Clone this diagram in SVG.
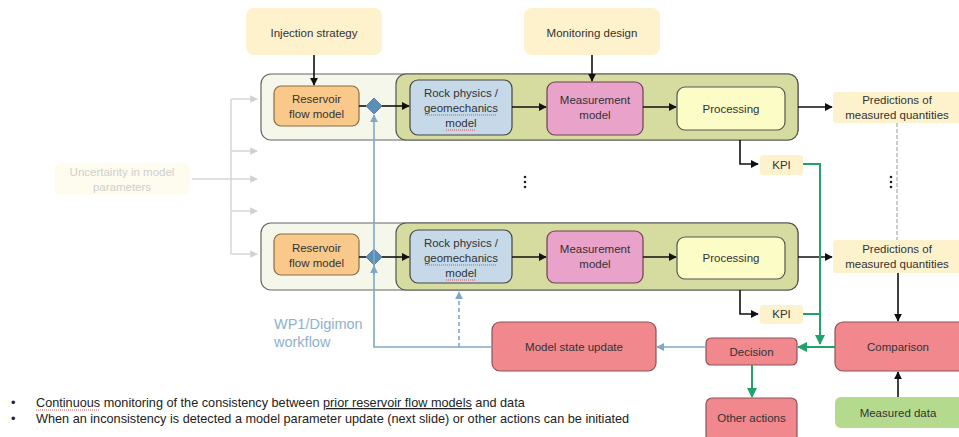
<svg xmlns="http://www.w3.org/2000/svg" width="959" height="437" viewBox="0 0 959 437">
  <style>
    text { font-family: "Liberation Sans", Arial, sans-serif; fill: #333; }
    .lbl { font-size: 11.5px; text-anchor: middle; }
    .note { fill: #fdf2cc; }
    .red { fill: #f0888e; stroke: #8c5256; stroke-width: 1.2; }
    .blk { stroke: #111; stroke-width: 1.6; fill: none; }
    .grn { stroke: #1fa36a; stroke-width: 2; fill: none; }
    .blu { stroke: #7ea9c6; stroke-width: 1.6; fill: none; }
    .gry { stroke: #d6d6d6; stroke-width: 1.5; fill: none; }
    .squig { stroke: #e05050; stroke-width: 1; stroke-dasharray: 1 1; fill: none; }
    .bul { font-size: 12.7px; fill: #222; }
  </style>
  <defs>
    <marker id="ab" viewBox="0 0 10 10" refX="9" refY="5" markerWidth="5" markerHeight="5" orient="auto">
      <path d="M0,0 L10,5 L0,10 z" fill="#111"/>
    </marker>
    <marker id="ag" viewBox="0 0 10 10" refX="9" refY="5" markerWidth="5" markerHeight="5" orient="auto">
      <path d="M0,0 L10,5 L0,10 z" fill="#1fa36a"/>
    </marker>
    <marker id="au" viewBox="0 0 10 10" refX="9" refY="5" markerWidth="5" markerHeight="5" orient="auto">
      <path d="M0,0 L10,5 L0,10 z" fill="#7ea9c6"/>
    </marker>
    <marker id="ay" viewBox="0 0 10 10" refX="9" refY="5" markerWidth="5" markerHeight="5" orient="auto">
      <path d="M0,0 L10,5 L0,10 z" fill="#d0d0d0"/>
    </marker>
  </defs>

  <!-- input notes -->
  <g id="injection">
    <rect class="note" x="246" y="8" width="136" height="47" rx="8"/>
    <text class="lbl" x="314" y="37">Injection strategy</text>
  </g>
  <g id="monitoring">
    <rect class="note" x="524" y="8" width="136" height="47" rx="8"/>
    <text class="lbl" x="592" y="37">Monitoring design</text>
  </g>

  <!-- uncertainty (faded) -->
  <g id="uncertainty">
    <rect x="55" y="163" width="135" height="32" rx="6" fill="#fefcef"/>
    <text class="lbl" x="122" y="176" style="fill:#cfcfcf">Uncertainty in model</text>
    <text class="lbl" x="122" y="191" style="fill:#cfcfcf">parameters</text>
  </g>

  <!-- workflow row 1 -->
  <g id="row1">
    <rect x="261" y="74" width="537" height="66" rx="10" fill="#f6f7eb" stroke="#666" stroke-width="1.2"/>
    <rect x="396" y="74" width="402" height="66" rx="10" fill="#d6dc9f" stroke="#555" stroke-width="1.2"/>
    <g id="reservoir1">
      <rect x="274" y="86" width="85" height="40" rx="7" fill="#f9c98b" stroke="#8a6c44" stroke-width="1.2"/>
      <text class="lbl" x="316.5" y="103">Reservoir</text>
      <text class="lbl" x="316.5" y="118">flow model</text>
    </g>
    <g id="diamond1">
      <path d="M374,98 L382,106 L374,114 L366,106 z" fill="#5b8fba" stroke="#4a7294" stroke-width="0.8"/>
    </g>
    <g id="rock1">
      <rect x="410" y="80" width="102" height="55" rx="8" fill="#c6d9e9" stroke="#444" stroke-width="1.2"/>
      <text class="lbl" x="461" y="97">Rock physics /</text>
      <text class="lbl" x="461" y="112">geomechanics</text>
      <text class="lbl" x="461" y="127">model</text>
      <path class="squig" d="M425,115 H497 M446,130 H476"/>
    </g>
    <g id="measurement1">
      <rect x="547" y="82" width="96" height="53" rx="8" fill="#e9a2c9" stroke="#6d4252" stroke-width="1.2"/>
      <text class="lbl" x="595" y="104">Measurement</text>
      <text class="lbl" x="595" y="119">model</text>
    </g>
    <g id="processing1">
      <rect x="677" y="87" width="108" height="43" rx="8" fill="#fbfcc6" stroke="#555" stroke-width="1.2"/>
      <text class="lbl" x="731" y="113">Processing</text>
    </g>
  </g>
  <g id="predictions1">
    <rect class="note" x="833" y="92" width="130" height="31" rx="3"/>
    <text class="lbl" x="897" y="104">Predictions of</text>
    <text class="lbl" x="897" y="119">measured quantities</text>
  </g>
  <g id="kpi1">
    <rect class="note" x="760" y="155" width="43" height="20" rx="3"/>
    <text class="lbl" x="781.5" y="169">KPI</text>
  </g>

  <!-- workflow row 2 -->
  <g id="row2">
    <rect x="261" y="223" width="537" height="67" rx="10" fill="#f6f7eb" stroke="#666" stroke-width="1.2"/>
    <rect x="396" y="223" width="402" height="67" rx="10" fill="#d6dc9f" stroke="#555" stroke-width="1.2"/>
    <g id="reservoir2">
      <rect x="274" y="234" width="85" height="41" rx="7" fill="#f9c98b" stroke="#8a6c44" stroke-width="1.2"/>
      <text class="lbl" x="316.5" y="252">Reservoir</text>
      <text class="lbl" x="316.5" y="267">flow model</text>
    </g>
    <g id="diamond2">
      <path d="M374,249 L382,257 L374,265 L366,257 z" fill="#5b8fba" stroke="#4a7294" stroke-width="0.8"/>
    </g>
    <g id="rock2">
      <rect x="410" y="230" width="102" height="53" rx="8" fill="#c6d9e9" stroke="#444" stroke-width="1.2"/>
      <text class="lbl" x="461" y="247">Rock physics /</text>
      <text class="lbl" x="461" y="262">geomechanics</text>
      <text class="lbl" x="461" y="277">model</text>
      <path class="squig" d="M425,265 H497 M446,280 H476"/>
    </g>
    <g id="measurement2">
      <rect x="547" y="231" width="96" height="52" rx="8" fill="#e9a2c9" stroke="#6d4252" stroke-width="1.2"/>
      <text class="lbl" x="595" y="253">Measurement</text>
      <text class="lbl" x="595" y="268">model</text>
    </g>
    <g id="processing2">
      <rect x="677" y="237" width="108" height="42" rx="8" fill="#fbfcc6" stroke="#555" stroke-width="1.2"/>
      <text class="lbl" x="731" y="262">Processing</text>
    </g>
  </g>
  <g id="predictions2">
    <rect class="note" x="833" y="240" width="130" height="33" rx="3"/>
    <text class="lbl" x="897" y="253">Predictions of</text>
    <text class="lbl" x="897" y="268">measured quantities</text>
  </g>
  <g id="kpi2">
    <rect class="note" x="760" y="305" width="43" height="19" rx="3"/>
    <text class="lbl" x="781.5" y="318">KPI</text>
  </g>

  <!-- evaluation boxes -->
  <g id="comparison">
    <rect class="red" x="835" y="322" width="134" height="49" rx="8"/>
    <text class="lbl" x="898" y="351">Comparison</text>
  </g>
  <g id="measured">
    <rect x="835" y="397" width="134" height="31" rx="6" fill="#b4da8e"/>
    <text class="lbl" x="898" y="417">Measured data</text>
  </g>
  <g id="decision">
    <rect class="red" x="706" y="338" width="91" height="27" rx="5"/>
    <text class="lbl" x="751.5" y="356">Decision</text>
  </g>
  <g id="other">
    <rect class="red" x="706" y="398" width="91" height="44" rx="6"/>
    <text class="lbl" x="751.5" y="422">Other actions</text>
  </g>
  <g id="update">
    <rect class="red" x="492" y="322" width="164" height="49" rx="8"/>
    <text class="lbl" x="574" y="351">Model state update</text>
  </g>

  <!-- connectors -->
  <g id="connectors">
    <!-- uncertainty fan-out -->
    <path class="gry" d="M192,179 H257" marker-end="url(#ay)"/>
    <path class="gry" d="M231,99 V254"/>
    <path class="gry" d="M231,99 H257" marker-end="url(#ay)"/>
    <path class="gry" d="M231,151 H257" marker-end="url(#ay)"/>
    <path class="gry" d="M231,211 H257" marker-end="url(#ay)"/>
    <path class="gry" d="M231,254 H257" marker-end="url(#ay)"/>

    <!-- inputs -->
    <path class="blk" d="M314,55 V85" marker-end="url(#ab)"/>
    <path class="blk" d="M592,55 V81" marker-end="url(#ab)"/>

    <!-- row 1 chain -->
    <path class="blk" d="M359,106 H366"/>
    <path class="blk" d="M382,106 H409" marker-end="url(#ab)"/>
    <path class="blk" d="M512,107 H546" marker-end="url(#ab)"/>
    <path class="blk" d="M643,107 H676" marker-end="url(#ab)"/>
    <path class="blk" d="M798,107 H832" marker-end="url(#ab)"/>
    <path class="blk" d="M740,140 V164 H758" marker-end="url(#ab)"/>

    <!-- row 2 chain -->
    <path class="blk" d="M359,257 H366"/>
    <path class="blk" d="M382,257 H409" marker-end="url(#ab)"/>
    <path class="blk" d="M512,257 H546" marker-end="url(#ab)"/>
    <path class="blk" d="M643,257 H676" marker-end="url(#ab)"/>
    <path class="blk" d="M798,257 H832" marker-end="url(#ab)"/>
    <path class="blk" d="M740,290 V314 H758" marker-end="url(#ab)"/>

    <!-- ellipsis between rows -->
    <g fill="#222">
      <circle cx="525" cy="177" r="1.3"/><circle cx="525" cy="182" r="1.3"/><circle cx="525" cy="187" r="1.3"/>
      <circle cx="891" cy="177" r="1.3"/><circle cx="891" cy="182" r="1.3"/><circle cx="891" cy="187" r="1.3"/>
    </g>
    <path d="M897,123 V240" stroke="#aaa" stroke-width="1.2" stroke-dasharray="4 2" fill="none"/>

    <!-- KPI to decision -->
    <path class="grn" d="M803,164 H820 V344" marker-end="url(#ag)"/>
    <path class="grn" d="M803,314 H820"/>
    <path class="grn" d="M835,347 H798" marker-end="url(#ag)"/>
    <path class="grn" d="M752,365 V397" marker-end="url(#ag)"/>

    <!-- comparison inputs -->
    <path class="blk" d="M898,273 V321" marker-end="url(#ab)"/>
    <path class="blk" d="M898,397 V372" marker-end="url(#ab)"/>

    <!-- feedback -->
    <path class="blu" d="M706,347 H657" marker-end="url(#au)"/>
    <path class="blu" d="M492,347 H374 V115" marker-end="url(#au)"/>
    <path class="blu" d="M374,275 V266" marker-end="url(#au)"/>
    <path class="blu" d="M459,347 V292" stroke-dasharray="4 3" marker-end="url(#au)"/>
  </g>

  <text x="274" y="329" style="font-size:14.5px;fill:#8fb1cc">WP1/Digimon</text>
  <text x="274" y="347" style="font-size:14.5px;fill:#8fb1cc">workflow</text>

  <!-- notes -->
  <text class="bul" x="11" y="407">•</text>
  <text class="bul" x="36" y="407">Continuous monitoring of the consistency between <tspan text-decoration="underline">prior reservoir flow models</tspan> and data</text>
  <path class="squig" d="M36,410 H100"/>
  <text class="bul" x="11" y="423">•</text>
  <text class="bul" x="36" y="423">When an inconsistency is detected a model parameter update (next slide) or other actions can be initiated</text>
</svg>
